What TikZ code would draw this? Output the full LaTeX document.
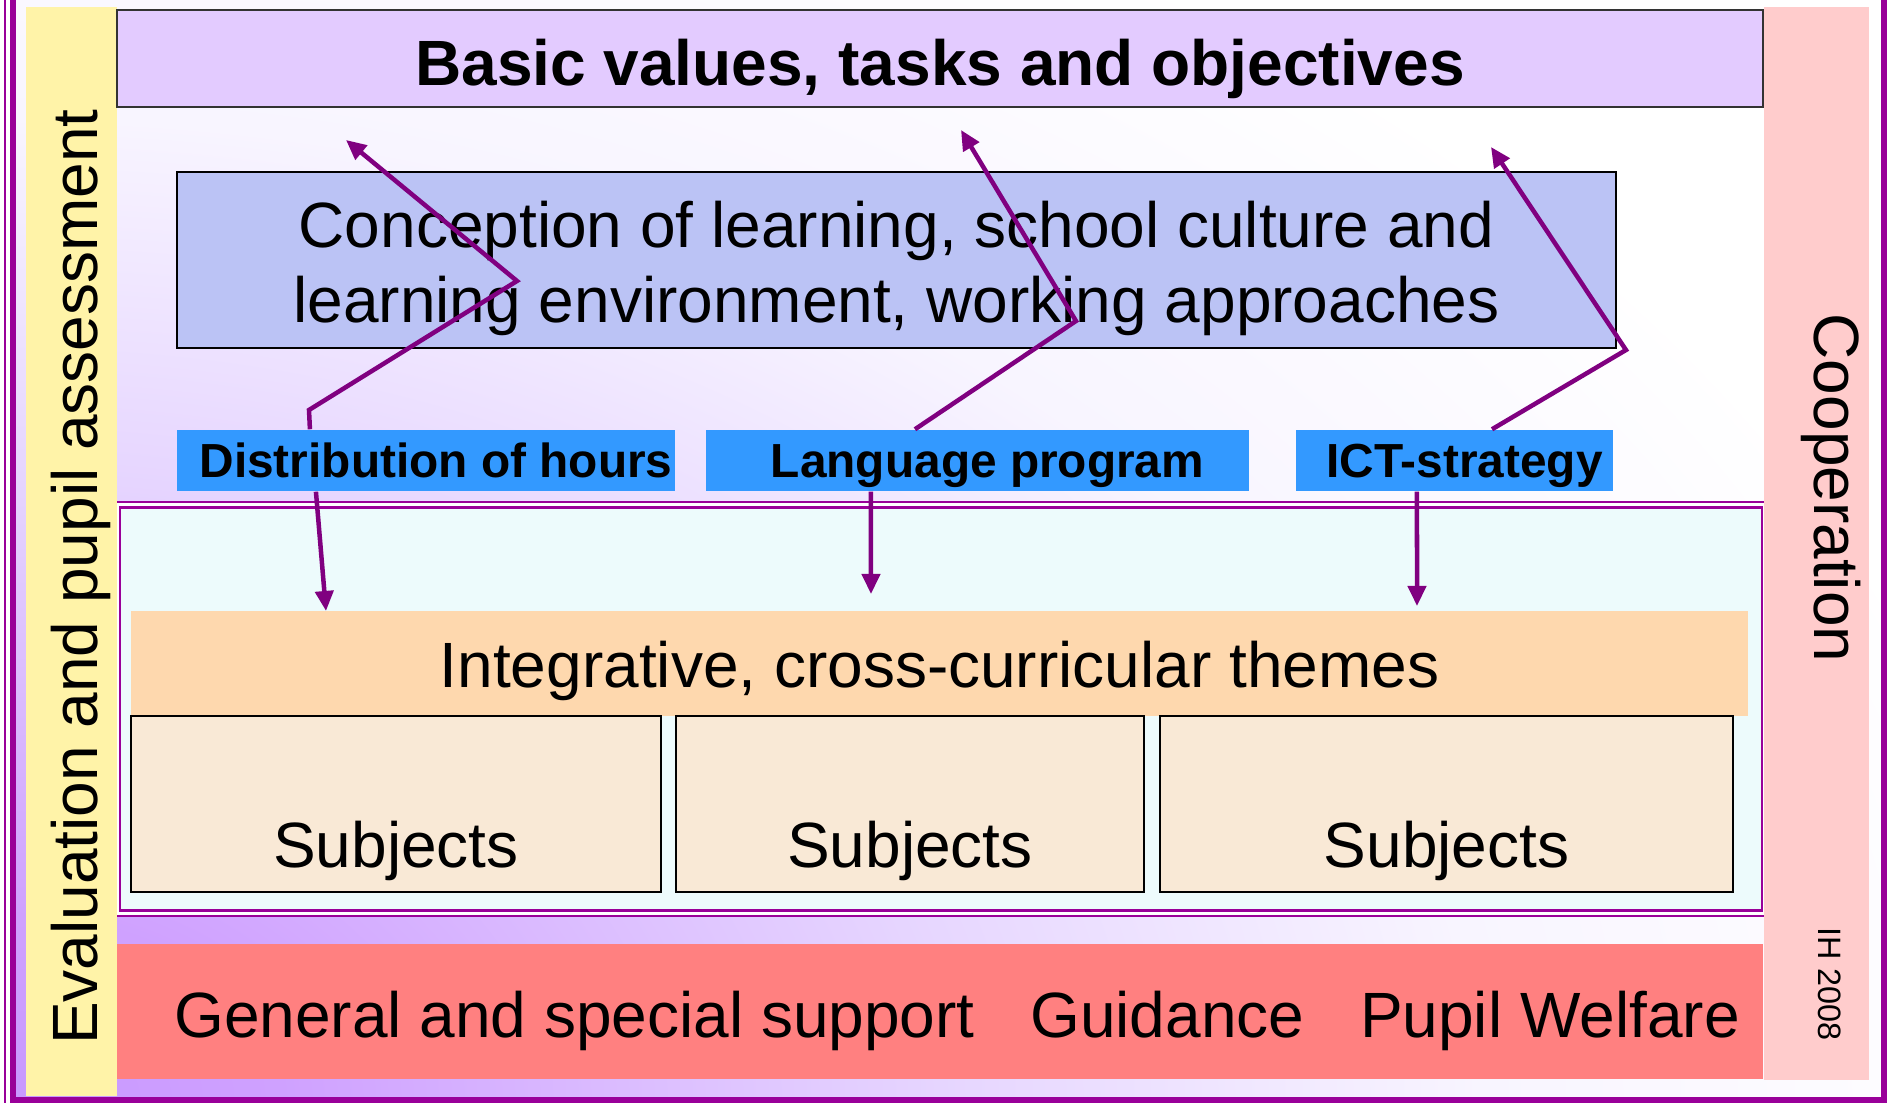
\documentclass[tikz,border=0pt]{standalone}
\usepackage{fontspec}
\setmainfont{Liberation Sans}
\usetikzlibrary{positioning, arrows.meta, calc}
\definecolor{framep}{RGB}{153,0,153}
\definecolor{arrowp}{RGB}{128,0,128}
\definecolor{titlef}{RGB}{227,203,255}
\definecolor{evalf}{RGB}{255,243,168}
\definecolor{coopf}{RGB}{255,204,204}
\definecolor{conf}{RGB}{187,195,245}
\definecolor{labelb}{RGB}{51,153,255}
\definecolor{coref}{RGB}{237,251,252}
\definecolor{themef}{RGB}{254,216,174}
\definecolor{subjf}{RGB}{249,233,214}
\definecolor{supf}{RGB}{255,128,128}
\definecolor{bgA}{RGB}{200,152,255}
\definecolor{bgB}{RGB}{207,161,255}
\definecolor{bgC}{RGB}{230,213,255}
\definecolor{bgD}{RGB}{248,245,255}
\pgfdeclareradialshading{slidebg}{\pgfpointorigin}{color(0bp)=(bgA); color(2.6bp)=(bgB);
  color(8.7bp)=(bgC); color(13.7bp)=(bgD); color(19bp)=(white); color(50bp)=(white)}

\begin{document}
\begin{tikzpicture}
[->/.style={line width=0.045cm, draw=arrowp, arrows={-Triangle[length=0.2cm, width=0.18cm]}},
   bigbox/.style={shape=rectangle, inner sep=0pt, text depth=0pt, font=\fontsize{18.2}{21.3}\selectfont},
   labelB/.style={shape=rectangle, inner sep=0pt, fill=labelb, minimum height=0.61cm,
     text height=0.35cm, text depth=0pt, font=\fontsize{13.6}{16}\selectfont\bfseries,
     execute at begin node=\hspace{0.2cm}},
   subjB/.style={bigbox, draw, line width=0.02cm, fill=subjf, minimum height=1.76cm, text height=1.26cm},
   sideT/.style={inner sep=0pt, font=\fontsize{18.2}{21.3}\selectfont},
   x=0.01cm, y=0.01cm]
\useasboundingbox (0,0) rectangle (1890,1103);
\begin{scope}
\clip (16,6) rectangle (1880,1103);
\shade[shading=slidebg] (0,0) ellipse [x radius=2700, y radius=1800];
\end{scope}
\draw[framep, line width=0.025cm, double=white, double distance=0.03cm, fill=coref] (117,189.5) rectangle (1764.5,598);
\fill[evalf] (26,7) rectangle (117,1096);
\fill[coopf] (1764,23) rectangle (1869,1096);
\node[bigbox, draw=black!80, line width=0.02cm, fill=titlef, minimum width=16.46cm, minimum height=0.97cm,
  text height=0.53cm, font=\fontsize{18.2}{21.3}\selectfont\bfseries] (BV) at (940,1044.5)
  {Basic values, tasks and objectives};
\node[bigbox, draw, line width=0.02cm, fill=conf, minimum width=14.39cm, minimum height=1.76cm,
  align=center, text depth=] (CL) at (896.5,843)
  {\rule{0pt}{0.63cm}Conception of learning, school culture and\\ learning environment, working approaches};
\node[labelB, minimum width=4.98cm] (DH) at (426,642.5) {Distribution of hours};
\node[labelB, minimum width=5.43cm] (LP) at (977.5,642.5) {Language program};
\node[labelB, minimum width=3.17cm] (ICT) at (1454.5,642.5) {ICT-strategy};
\node[bigbox, fill=themef, minimum width=16.17cm, minimum height=1.05cm, text height=0.48cm] (IT) at (939.5,439.5)
  {Integrative, cross-curricular themes};
\node[subjB, minimum width=5.30cm] (S1) at (396,299) {Subjects};
\node[subjB, minimum width=4.68cm] (S2) at (910,299) {Subjects};
\node[subjB, minimum width=5.73cm] (S3) at (1446.5,299) {Subjects};
\node[bigbox, fill=supf, minimum width=16.46cm, minimum height=1.35cm, text height=0.51cm] (GS) at (940,91.5)
  {\hspace{0.34cm}General and special support\hspace{0.38cm} Guidance\hspace{0.38cm} Pupil Welfare};
\node[sideT, rotate=90, anchor=base] (EV) at (98,526) {Evaluation and pupil assessment};
\node[sideT, rotate=-90, anchor=base] (CO) at (1814,615) {Cooperation};
\node[inner sep=0pt, rotate=-90, anchor=base, font=\fontsize{9.2}{11}\selectfont] (IH) at (1818,119) {IH 2008};
\coordinate (DHk1) at (309,693);
\coordinate (DHk2) at (517,822);
\coordinate (DHt1) at (346,963);
\coordinate (DHt2) at (326,492);
\coordinate (LPk) at (1076,782);
\coordinate (LPt1) at (961,973);
\coordinate (LPt2) at (871,509);
\coordinate (ICTk) at (1626,753);
\coordinate (ICTt1) at (1491,956);
\coordinate (ICTt2) at (1417,497);
\draw [->] ([xshift=-1.16cm]DH.north) -- (DHk1) -- (DHk2) -- (DHt1);
\draw [->] ([xshift=-1.1cm]DH.south) -- (DHt2);
\draw [->] ([xshift=-0.625cm]LP.north) -- (LPk) -- (LPt1);
\draw [->] ([xshift=-1.065cm]LP.south) -- (LPt2);
\draw [->] ([xshift=0.375cm]ICT.north) -- (ICTk) -- (ICTt1);
\draw [->] ([xshift=-0.375cm]ICT.south) -- (ICTt2);
\draw[framep, line width=0.015cm] (5,-5) rectangle (1891,1114);
\draw[framep, line width=0.06cm] (13,3) rectangle (1883.5,1106);
\end{tikzpicture}
\end{document}
